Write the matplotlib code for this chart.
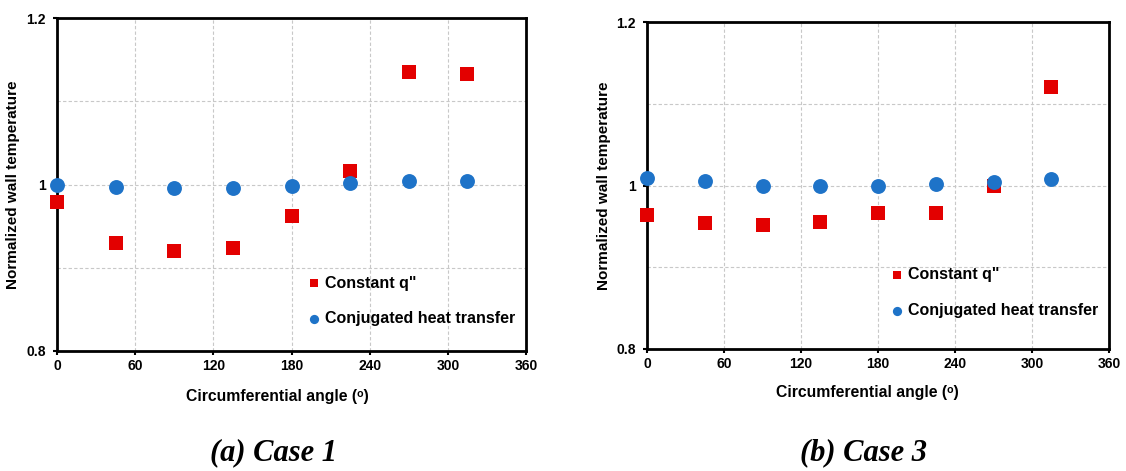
import matplotlib
matplotlib.use("Agg")
import matplotlib.pyplot as plt
from matplotlib.ticker import MultipleLocator, FixedLocator

plt.rcParams['font.family'] = ['Liberation Sans', 'DejaVu Sans']

angles = [0, 45, 90, 135, 180, 225, 270, 315]

case1_constant = [0.979, 0.930, 0.920, 0.924, 0.962, 1.016, 1.135, 1.133]
case1_conjugated = [1.000, 0.997, 0.996, 0.996, 0.998, 1.002, 1.004, 1.004]

case3_constant = [0.964, 0.954, 0.952, 0.955, 0.966, 0.966, 0.999, 1.120]
case3_conjugated = [1.009, 1.005, 0.999, 0.999, 1.000, 1.002, 1.004, 1.008]

series_labels = ['Constant q"', 'Conjugated heat transfer']
captions = ['(a) Case 1', '(b) Case 3']
x_ticks = [0, 60, 120, 180, 240, 300, 360]
y_ticks = [0.8, 1.0, 1.2]
y_ticklabels = ['0.8', '1', '1.2']

RED = '#E30000'
BLUE = '#1E73C8'

fig = plt.figure(figsize=(11.26, 4.71), dpi=100)

# (axes rect, values, caption, caption x, legend anchor, xlabel coords)
panels = [
    ([57 / 1126, 1 - 351 / 471, 469 / 1126, 333 / 471], case1_constant, case1_conjugated,
     captions[0], 273, (0.500, 0.055), (0.469, -0.114)),
    ([647 / 1126, 1 - 349 / 471, 462 / 1126, 327 / 471], case3_constant, case3_conjugated,
     captions[1], 863, (0.493, 0.075), (0.476, -0.110)),
]

for rect, const_vals, conj_vals, caption, cap_x, leg_anchor, xlab_xy in panels:
    ax = fig.add_axes(rect)
    ax.scatter(angles, const_vals, marker='s', s=95, color=RED, label=series_labels[0],
               zorder=3, linewidths=0, clip_on=False)
    ax.scatter(angles, conj_vals, marker='o', s=115, color=BLUE, label=series_labels[1],
               zorder=3, linewidths=0, clip_on=False)
    ax.set_xlim(0, 360)
    ax.set_ylim(0.8, 1.2)
    ax.xaxis.set_major_locator(FixedLocator(x_ticks))
    ax.yaxis.set_major_locator(FixedLocator(y_ticks))
    ax.set_yticklabels(y_ticklabels)
    ax.yaxis.set_minor_locator(MultipleLocator(0.1))
    ax.grid(True, which='major', axis='x', color='#C8C8C8', linestyle=(0, (3, 2)), linewidth=0.8)
    ax.grid(True, which='both', axis='y', color='#C8C8C8', linestyle=(0, (3, 2)), linewidth=0.8)
    ax.set_axisbelow(True)
    ax.tick_params(axis='both', which='major', direction='out', length=3, width=1.5,
                   labelsize=10, pad=3)
    ax.tick_params(axis='y', which='minor', length=0)
    ax.tick_params(axis='y', which='major', pad=5)
    for lab in ax.get_xticklabels() + ax.get_yticklabels():
        lab.set_fontweight('bold')
    for sp in ax.spines.values():
        sp.set_linewidth(2)
        sp.set_color('black')
    ax.set_xlabel('Circumferential angle (ᵒ)', fontsize=11.3, fontweight='bold')
    ax.xaxis.set_label_coords(*xlab_xy)
    ax.set_ylabel('Normalized wall temperature', fontsize=11, fontweight='bold')
    ax.yaxis.set_label_coords(-0.079, 0.5)
    ax.legend(loc='lower left', bbox_to_anchor=leg_anchor, frameon=False,
              prop={'weight': 'bold', 'size': 11.5}, handletextpad=-0.3,
              labelspacing=1.3, markerscale=0.62, borderaxespad=0)
    fig.text(cap_x / 1126, 1 - 453 / 471, caption, ha='center', va='center',
             fontsize=22, fontweight='bold', fontstyle='italic', family='Liberation Serif')

fig.savefig('out.png', dpi=100)
